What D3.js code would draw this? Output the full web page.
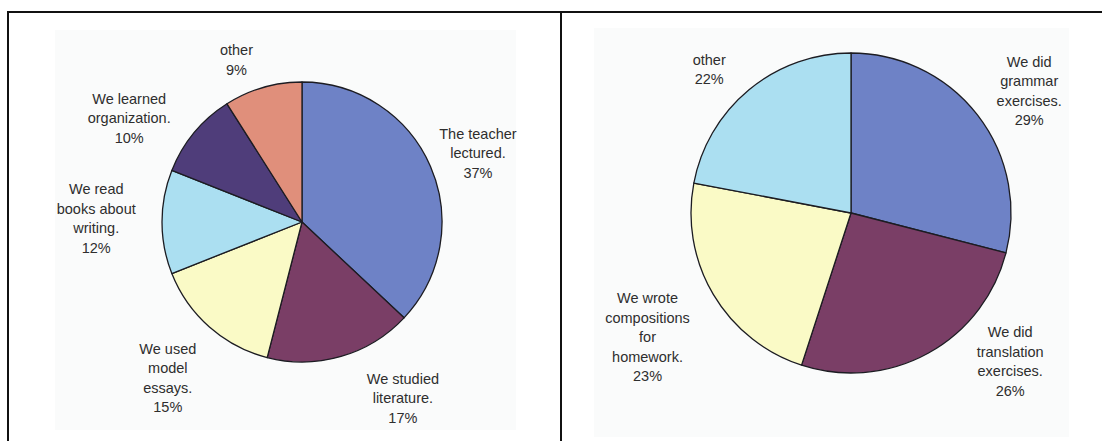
<!DOCTYPE html>
<html>
<head>
<meta charset="utf-8">
<script src="https://cdn.jsdelivr.net/npm/d3@7/dist/d3.min.js"></script>
<style>
  html, body { margin: 0; padding: 0; background: #fff; }
  svg { display: block; }
  text { font-family: "Liberation Sans", Arial, sans-serif; fill: #2e2e2e; }
</style>
</head>
<body>
<svg id="chart" width="1102" height="441"></svg>
<script>
// Left pie: what happened in writing class
const writingLabels = [
  ["The teacher", "lectured."],
  ["We studied", "literature."],
  ["We used", "model", "essays."],
  ["We read", "books about", "writing."],
  ["We learned", "organization."],
  ["other"]
];
const writingValues = [37, 17, 15, 12, 10, 9];

// Right pie: what happened in English class
const englishLabels = [
  ["We did", "grammar", "exercises."],
  ["We did", "translation", "exercises."],
  ["We wrote", "compositions", "for", "homework."],
  ["other"]
];
const englishValues = [29, 26, 23, 22];

const writingColors = ["#6e82c6", "#7a3e66", "#fafac6", "#abdff1", "#4f3d7a", "#e08f7b"];
const englishColors = ["#6e82c6", "#7a3e66", "#fafac6", "#abdff1"];

// label placement: angular shift (deg) from slice middle, distance as multiple of radius
const writingLabelShift = [2, -13.6, -0.7, 1, -8.6, -5.8];
const writingLabelDist  = [1.35, 1.45, 1.47, 1.47, 1.44, 1.25];
const englishLabelShift = [3.4, -18.2, -0.8, -5.1];
const englishLabelDist  = [1.35, 1.36, 1.49, 1.26];

const svg = d3.select("#chart");

// faint plot-area tint
svg.append("rect").attr("x", 55).attr("y", 30).attr("width", 461).attr("height", 400)
  .attr("fill", "#fafbfb");
svg.append("rect").attr("x", 594).attr("y", 28).attr("width", 475).attr("height", 409)
  .attr("fill", "#fafbfb");

// panel frame
svg.append("line").attr("x1", 8).attr("x2", 1102).attr("y1", 12).attr("y2", 12)
  .attr("stroke", "#111").attr("stroke-width", 2);
svg.append("line").attr("x1", 8).attr("x2", 8).attr("y1", 11).attr("y2", 441)
  .attr("stroke", "#111").attr("stroke-width", 2);
svg.append("line").attr("x1", 561).attr("x2", 561).attr("y1", 11).attr("y2", 441)
  .attr("stroke", "#111").attr("stroke-width", 2);

function drawPie(cx, cy, r, values, labels, colors, shifts, dists) {
  const g = svg.append("g").attr("transform", `translate(${cx},${cy})`);
  const total = d3.sum(values);
  const pie = d3.pie().sort(null).value(d => d)(values);
  const arc = d3.arc().innerRadius(0).outerRadius(r);

  g.selectAll("path.slice").data(pie).join("path")
    .attr("class", "slice")
    .attr("d", arc)
    .attr("fill", (d, i) => colors[i])
    .attr("stroke", "#1c1c22")
    .attr("stroke-width", 1.3)
    .attr("stroke-linejoin", "round");

  const lineH = 19.5;
  pie.forEach((d, i) => {
    const mid = (d.startAngle + d.endAngle) / 2 + shifts[i] * Math.PI / 180;
    const rr = r * dists[i];
    const lx = Math.sin(mid) * rr;
    const ly = -Math.cos(mid) * rr;
    const lines = labels[i].concat([Math.round(d.value / total * 100) + "%"]);
    const t = g.append("text")
      .attr("text-anchor", "middle")
      .attr("font-size", "14.5px");
    lines.forEach((s, k) => {
      t.append("tspan")
        .attr("x", lx)
        .attr("y", ly + (k - (lines.length - 1) / 2) * lineH + 5)
        .text(s);
    });
  });
}

drawPie(302, 222, 140, writingValues, writingLabels, writingColors, writingLabelShift, writingLabelDist);
drawPie(851, 213, 160, englishValues, englishLabels, englishColors, englishLabelShift, englishLabelDist);
</script>
</body>
</html>
